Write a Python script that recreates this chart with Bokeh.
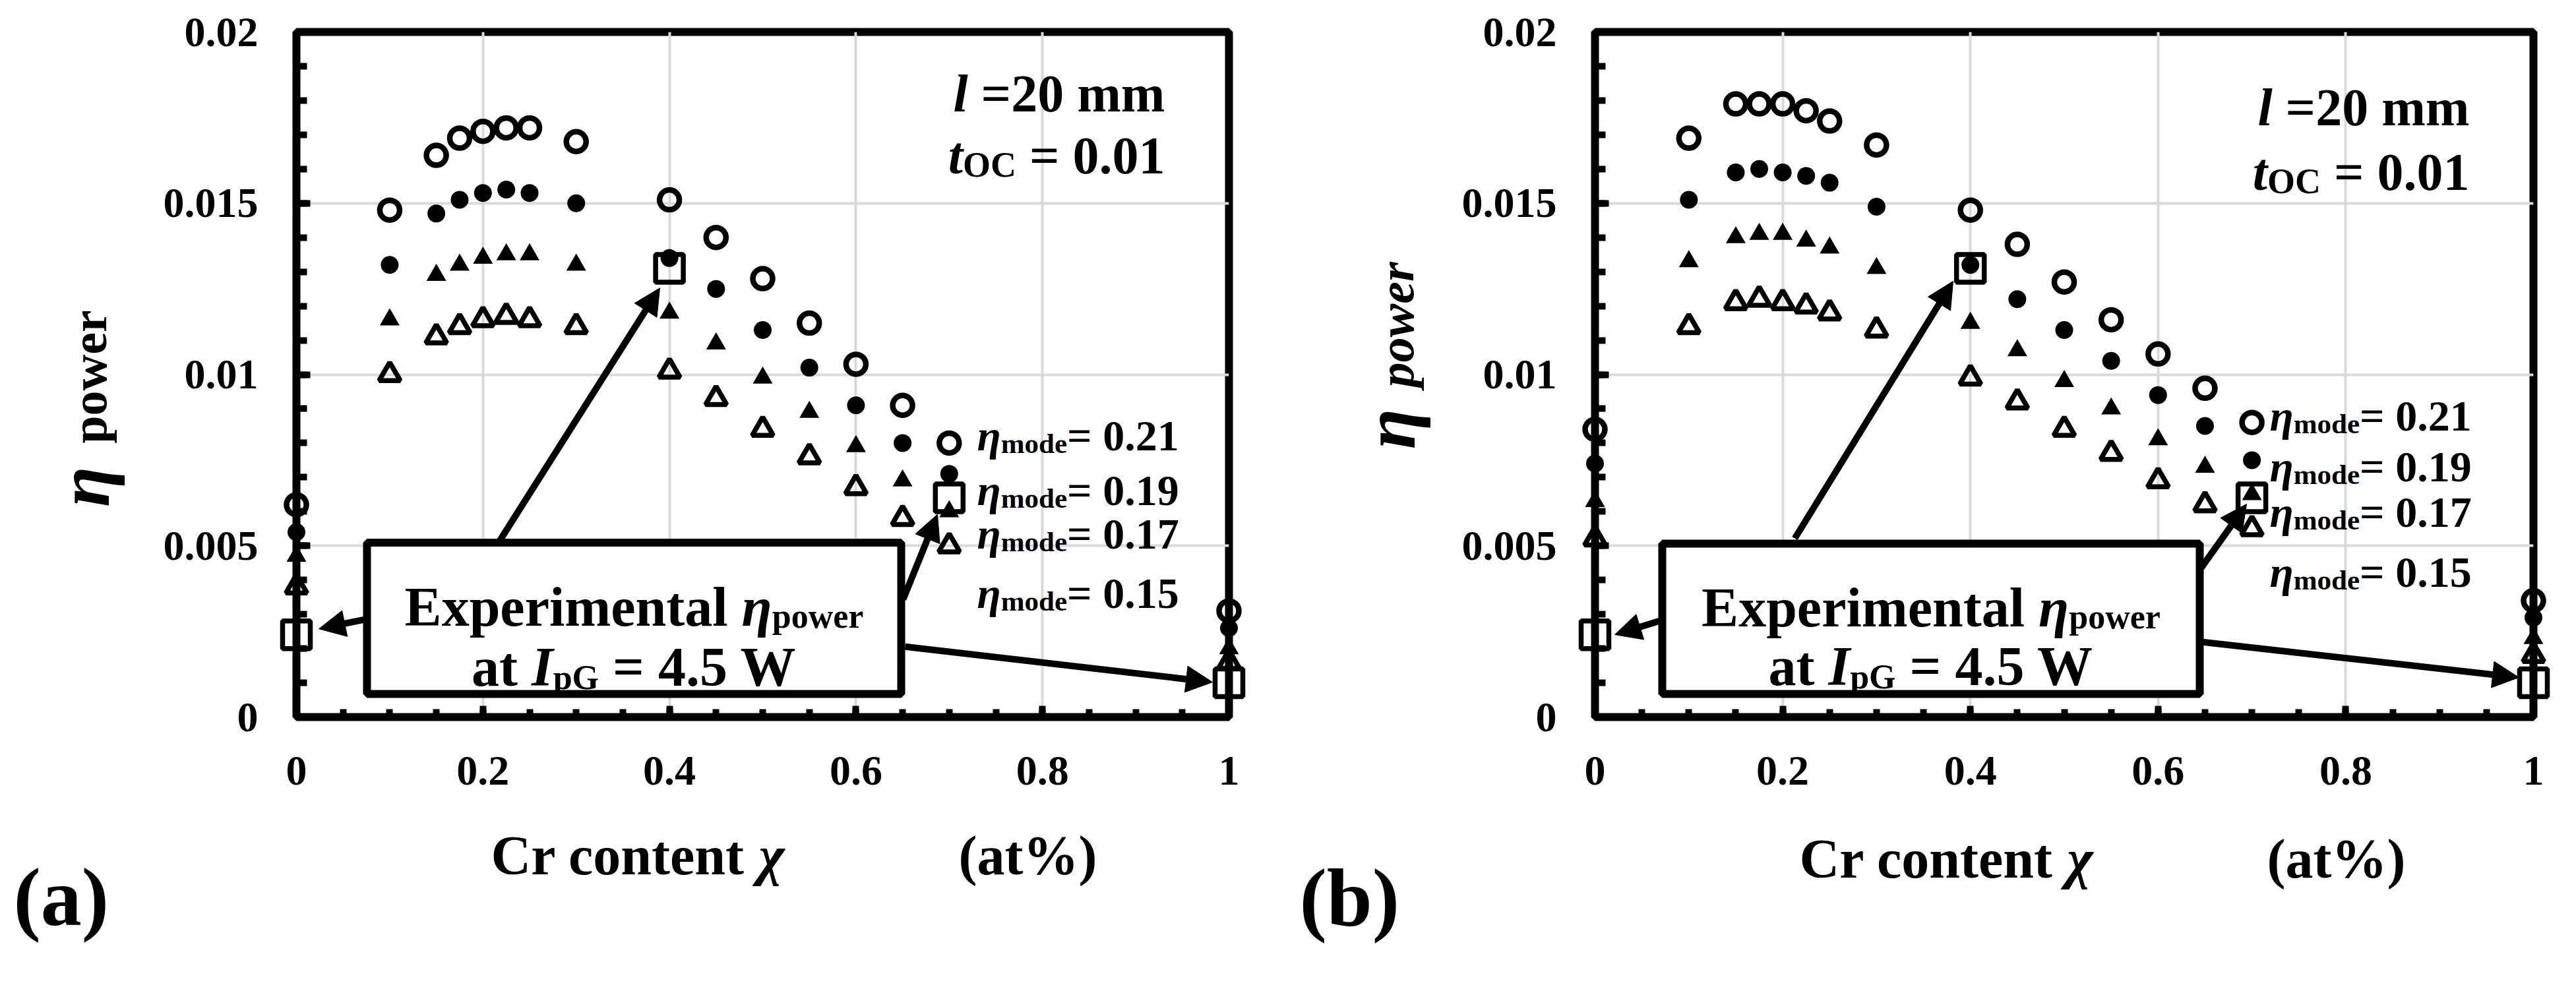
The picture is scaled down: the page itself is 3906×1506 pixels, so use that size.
import math
from bokeh.plotting import figure
from bokeh.layouts import row
from bokeh.models import Range1d, FixedTicker, Arrow, NormalHead, BoxAnnotation
from bokeh.core.properties import value
from bokeh.embed import file_html
from bokeh.resources import INLINE

# ---------------- data ----------------
chi = [0, 0.1, 0.15, 0.175, 0.2, 0.225, 0.25, 0.3, 0.4, 0.45, 0.5, 0.55, 0.6, 0.65, 0.7, 1.0]

a_mode021 = [0.0062, 0.0148, 0.0164, 0.0169, 0.0171, 0.0172, 0.0172, 0.0168, 0.0151, 0.0140, 0.0128, 0.0115, 0.0103, 0.0091, 0.0080, 0.0031]
a_mode019 = [0.0054, 0.0132, 0.0147, 0.0151, 0.0153, 0.0154, 0.0153, 0.0150, 0.0134, 0.0125, 0.0113, 0.0102, 0.0091, 0.0080, 0.0071, 0.0026]
a_mode017 = [0.0047, 0.0116, 0.0129, 0.0132, 0.0134, 0.0135, 0.0135, 0.0132, 0.0118, 0.0109, 0.0099, 0.0089, 0.0079, 0.0069, 0.0060, 0.0020]
a_mode015 = [0.0038, 0.0100, 0.0111, 0.0114, 0.0116, 0.0117, 0.0116, 0.0114, 0.0101, 0.0093, 0.0084, 0.0076, 0.0067, 0.0058, 0.0050, 0.0016]

b_mode021 = [0.0084, 0.0169, 0.0179, 0.0179, 0.0179, 0.0177, 0.0174, 0.0167, 0.0148, 0.0138, 0.0127, 0.0116, 0.0106, 0.0096, 0.0086, 0.0034]
b_mode019 = [0.0074, 0.0151, 0.0159, 0.0160, 0.0159, 0.0158, 0.0156, 0.0149, 0.0132, 0.0122, 0.0113, 0.0104, 0.0094, 0.0085, 0.0075, 0.0029]
b_mode017 = [0.0063, 0.0133, 0.0140, 0.0141, 0.0141, 0.0139, 0.0137, 0.0131, 0.0115, 0.0107, 0.0098, 0.0090, 0.0081, 0.0073, 0.0065, 0.0023]
b_mode015 = [0.0052, 0.0114, 0.0121, 0.0122, 0.0121, 0.0120, 0.0118, 0.0113, 0.0099, 0.0092, 0.0084, 0.0077, 0.0069, 0.0062, 0.0055, 0.0018]

exp_chi = [0, 0.4, 0.7, 1.0]
exp_eta = [0.0024, 0.0131, 0.0064, 0.0010]

mode_values = ["0.21", "0.19", "0.17", "0.15"]
x_ticks = [0, 0.2, 0.4, 0.6, 0.8, 1.0]
x_tick_labels = ["0", "0.2", "0.4", "0.6", "0.8", "1"]
x_minor = [i * 0.05 for i in range(21)]
y_ticks = [0, 0.005, 0.01, 0.015, 0.02]
y_tick_labels = ["0", "0.005", "0.01", "0.015", "0.02"]
y_minor = [i * 0.001 for i in range(21)]

SERIF = "Liberation Serif"
FIG_W, FIG_H = 1945, 1490

W_B = {' ': 250, '=': 570, '.': 250, '%': 1000, '(': 333, ')': 333, 'E': 667, 'x': 500, 'p': 556,
       'e': 444, 'r': 444, 'i': 278, 'm': 833, 'n': 556, 't': 333, 'a': 500, 'l': 278, 'o': 500,
       'w': 722, 'd': 556, 'G': 778, 'W': 1000, 'C': 722, 'O': 778, 'I': 389, 'c': 444, 'b': 556}
W_BI = {'l': 278, 't': 278, 'I': 389, 'η': 550, 'χ': 550, 'p': 500, 'o': 500, 'w': 667, 'e': 444, 'r': 389, ' ': 250}


def tw(s, size, italic=False):
    tbl = W_BI if italic else W_B
    return sum(tbl.get(c, 500) for c in s) / 1000.0 * size


def put_text(p, D, px, py, txt, size, italic, align="left", baseline="alphabetic", angle=0.0):
    xd, yd = D(px, py)
    r = p.text(x=[xd], y=[yd], text=[txt], text_font=value(SERIF),
               text_font_style="bold italic" if italic else "bold",
               text_font_size=value(f"{size}px"), text_color="black",
               text_align=align, text_baseline=baseline, angle=angle)
    r.level = "overlay"
    return r


def add_pieces(p, D, x_px, base_px, parts, align="left"):
    total = sum(tw(t, s, it) for t, s, it, dy in parts)
    if align == "right":
        x0 = x_px - total
    elif align == "center":
        x0 = x_px - total / 2.0
    else:
        x0 = x_px
    off = 0.0
    for t, s, it, dy in parts:
        lead = len(t) - len(t.lstrip(' '))
        txt = t.strip(' ')
        put_text(p, D, x0 + off + tw(' ' * lead, s, it), base_px + dy, txt, s, it)
        off += tw(t, s, it)


def build(series, frame, fig_x, ann):
    fl, ft, fw, fh = frame
    fb = ft + fh

    def D(px, py):
        return ((px - fl) / fw, (fb - py) / fh * 0.02)

    left_b = fl - fig_x
    top_b = ft - 8
    p = figure(width=FIG_W, height=FIG_H, x_range=Range1d(0, 1), y_range=Range1d(0, 0.02),
               min_border_left=left_b, min_border_right=FIG_W - left_b - fw,
               min_border_top=top_b, min_border_bottom=FIG_H - top_b - fh,
               output_backend="svg", toolbar_location=None,
               background_fill_color="white", border_fill_color="white")
    p.outline_line_color = "black"
    p.outline_line_width = 12
    p.outline_line_alpha = 1

    # axes
    p.xaxis.ticker = FixedTicker(ticks=x_ticks, minor_ticks=x_minor)
    p.yaxis.ticker = FixedTicker(ticks=y_ticks, minor_ticks=y_minor)
    p.xaxis.major_label_overrides = {t: l for t, l in zip(x_ticks, x_tick_labels)}
    p.yaxis.major_label_overrides = {t: l for t, l in zip(y_ticks, y_tick_labels)}
    for ax in (p.xaxis[0], p.yaxis[0]):
        ax.axis_line_color = None
        ax.major_tick_out = 0
        ax.minor_tick_out = 0
        ax.major_tick_line_color = "black"
        ax.minor_tick_line_color = "black"
        ax.major_tick_line_width = 10
        ax.minor_tick_line_width = 10
        ax.major_label_text_font = SERIF
        ax.major_label_text_font_style = "bold"
        ax.major_label_text_font_size = "64px"
        ax.major_label_text_color = "black"
    p.xaxis.major_tick_in = 17
    p.xaxis.minor_tick_in = 12
    p.yaxis.major_tick_in = 21
    p.yaxis.minor_tick_in = 16
    p.xaxis.major_label_standoff = 60
    p.yaxis.major_label_standoff = 58
    p.xgrid.grid_line_color = "#d9d9d9"
    p.ygrid.grid_line_color = "#d9d9d9"
    p.xgrid.grid_line_width = 4
    p.ygrid.grid_line_width = 4

    s21, s19, s17, s15 = series
    rs = []
    rs.append(p.scatter(chi, s21, marker="circle", size=30, line_width=8.5, line_color="black", fill_alpha=0))
    rs.append(p.scatter(chi, s19, marker="circle", size=27, line_width=0, line_color=None, fill_color="black"))
    rs.append(p.scatter(chi, s17, marker="triangle", size=30, line_width=0, line_color=None, fill_color="black"))
    rs.append(p.scatter(chi, s15, marker="triangle", size=32, line_width=7.5, line_color="black", fill_alpha=0))
    rs.append(p.scatter(exp_chi, exp_eta, marker="square", size=42, line_width=7.5, line_color="black", fill_alpha=0))
    for r in rs:
        r.level = "overlay"

    # annotation box
    bl, bt, br, bbm = ann["box"]
    x0, y0 = D(bl, bbm)
    x1, y1 = D(br, bt)
    p.add_layout(BoxAnnotation(left=x0, right=x1, bottom=y0, top=y1, fill_color="white", fill_alpha=1,
                               line_color="black", line_width=12, line_alpha=1))
    bc = (bl + br) / 2.0
    add_pieces(p, D, bc, ann["line1"], [("Experimental ", 84, False, 0), ("η", 84, True, 0), ("power", 52, False, 14)], "center")
    add_pieces(p, D, bc, ann["line2"], [("at ", 84, False, 0), ("I", 84, True, 0), ("pG", 52, False, 16), (" = 4.5 W", 84, False, 0)], "center")

    for (sx, sy), (ex, ey) in ann["arrows"]:
        xs, ys = D(sx, sy)
        xe, ye = D(ex, ey)
        p.add_layout(Arrow(end=NormalHead(size=40, fill_color="black", line_color="black", line_width=1),
                           x_start=xs, y_start=ys, x_end=xe, y_end=ye, line_width=10, line_color="black"))

    # parameter text
    rx, base1, base2 = ann["param"]
    add_pieces(p, D, rx, base1, [("l", 80, True, 0), (" =20 mm", 80, False, 0)], "right")
    add_pieces(p, D, rx, base2, [("t", 80, True, 0), ("OC", 54, False, 14), (" = 0.01", 80, False, 0)], "right")

    # mode labels
    mx, bases = ann["modes"]
    for v, b in zip(mode_values, bases):
        add_pieces(p, D, mx, b, [("η", 66, True, 0), ("mode", 43, False, 12), ("= " + v, 66, False, 0)])

    # y axis label (rotated)
    (ex_, ey_), (px_, py_), power_italic = ann["ylabel"]
    put_text(p, D, ex_, ey_, "η", 112, True, "center", "middle", math.pi / 2)
    put_text(p, D, px_, py_, "power", 76, power_italic, "center", "middle", math.pi / 2)

    # x axis label
    cx, ax_, xb = ann["xlabel"]
    add_pieces(p, D, cx, xb, [("Cr content ", 84, False, 0), ("χ", 84, True, 0)])
    add_pieces(p, D, ax_, xb, [("(at%)", 84, False, 0)])

    # panel letter
    lx, ly, letter = ann["letter"]
    put_text(p, D, lx, ly, letter, 124, False, "left", "middle")
    return p


ann_a = {
    "box": (564, 830, 1374, 1060),
    "line1": 928, "line2": 1019,
    "arrows": [((764, 829), (1008, 443)), ((559, 947), (491, 961)),
               ((1377, 916), (1429, 787)), ((1380, 988), (1846, 1042))],
    "param": (1774, 148, 242),
    "modes": (1489, [667, 750, 816, 907]),
    "ylabel": ((134, 745), (142, 578), False),
    "xlabel": (752, 1461, 1305),
    "letter": (28, 1370, "(a)"),
}
ann_b = {
    "box": (2528, 832, 3343, 1060),
    "line1": 929, "line2": 1018,
    "arrows": [((2729, 824), (2969, 434)), ((2528, 948), (2456, 970)),
               ((3345, 869), (3414, 772)), ((3345, 981), (3827, 1035))],
    "param": (3752, 170, 268),
    "modes": (3449, [638, 715, 784, 875]),
    "ylabel": ((2114, 658), (2124, 500), True),
    "xlabel": (2736, 3445, 1310),
    "letter": (1978, 1370, "(b)"),
}

pa = build((a_mode021, a_mode019, a_mode017, a_mode015), (457, 54, 1414, 1041), 8, ann_a)
pb = build((b_mode021, b_mode019, b_mode017, b_mode015), (2426, 56, 1423, 1039), 8 + FIG_W, ann_b)

layout = row(pa, pb)
open("out.html", "w").write(file_html(layout, INLINE))
